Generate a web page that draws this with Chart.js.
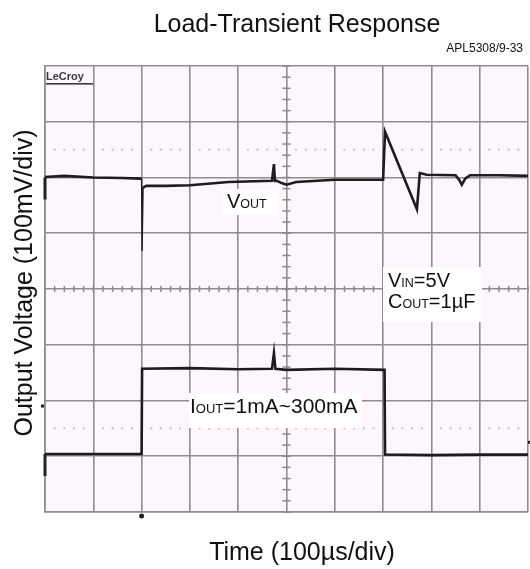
<!DOCTYPE html>
<html lang="en">
<head>
<meta charset="UTF-8" />
<title>Load-Transient Response</title>
<script src="https://cdn.jsdelivr.net/npm/chart.js"></script>
<style>
  body { margin: 0; background: #fff; }
  canvas { display: block; }
</style>
</head>
<body>
<canvas id="scope" width="530" height="569"></canvas>
<script>
  // time in µs (100 µs/div), trace levels in screen divisions (0 = centre line)
  const voutTime = [0, 40, 100, 160, 200, 201, 203, 210, 250, 300, 380, 470, 474, 476, 480, 490, 500, 520, 600, 700, 704, 770, 776, 790, 850, 858, 863, 870, 880, 940, 1000];
  const voutDiv  = [2.01, 2.03, 2.00, 1.99, 1.98, 0.68, 1.82, 1.85, 1.85, 1.86, 1.92, 1.94, 2.24, 1.94, 1.94, 1.90, 1.87, 1.92, 1.96, 1.96, 2.82, 1.43, 2.08, 2.05, 2.04, 1.95, 1.87, 1.98, 2.04, 2.04, 2.03];
  const ioutTime = [0, 100, 200, 201, 300, 400, 470, 474, 477, 500, 600, 703, 704, 800, 900, 1000];
  const ioutDiv  = [-2.96, -2.96, -2.96, -1.43, -1.42, -1.44, -1.43, -1.15, -1.43, -1.45, -1.43, -1.45, -2.97, -2.98, -2.97, -2.97];
  const dottedLevels = [2.5, -2.5];

  const FONT = "'Liberation Sans', Arial, sans-serif";

  function pairs(xs, ys) {
    return xs.map((x, i) => ({ x: x, y: ys[i] }));
  }

  // text with smaller "subscript" parts, e.g. V + OUT
  function mixed(ctx, parts, x, y) {
    parts.forEach(([txt, size]) => {
      ctx.font = size + 'px ' + FONT;
      ctx.fillText(txt, x, y);
      x += ctx.measureText(txt).width;
    });
  }

  const scopeDeco = {
    id: 'scopeDeco',
    beforeDraw(chart) {
      const { ctx, chartArea: a } = chart;
      ctx.save();
      ctx.fillStyle = '#ffffff';
      ctx.fillRect(0, 0, chart.width, chart.height);
      ctx.fillStyle = '#fdf6fd';
      ctx.fillRect(a.left, a.top, a.right - a.left, a.bottom - a.top);
      ctx.restore();
    },
    beforeDatasetsDraw(chart) {
      const { ctx, scales: { x, y } } = chart;
      const cx = x.getPixelForValue(500), cy = y.getPixelForValue(0);
      ctx.save();
      ctx.strokeStyle = '#8a8a8a';
      ctx.lineWidth = 1.5;
      // minor ticks on the centre axes
      for (let v = -4; v <= 4.001; v += 0.2) {
        const py = y.getPixelForValue(v);
        ctx.beginPath(); ctx.moveTo(cx - 4, py); ctx.lineTo(cx + 4, py); ctx.stroke();
      }
      for (let t = 0; t <= 1000.1; t += 20) {
        const px = x.getPixelForValue(t);
        ctx.beginPath(); ctx.moveTo(px, cy - 3); ctx.lineTo(px, cy + 3); ctx.stroke();
      }
      // dotted marker lines
      ctx.fillStyle = '#c4c4c4';
      dottedLevels.forEach(lv => {
        const py = y.getPixelForValue(lv);
        for (let t = 20; t < 1000; t += 20) {
          if (t % 100 === 0) continue;
          const px = x.getPixelForValue(t);
          ctx.fillRect(px - 1, py - 1, 2, 2);
        }
      });
      // channel / trigger markers
      ctx.fillStyle = '#222';
      const lx = x.getPixelForValue(0);
      ctx.fillRect(lx - 1.5, y.getPixelForValue(2.0), 3, 22);
      ctx.fillRect(lx - 1.5, y.getPixelForValue(-2.96), 3, 22);
      ctx.fillRect(lx - 4, y.getPixelForValue(-2.1) - 1.5, 3, 3);
      ctx.fillRect(x.getPixelForValue(1000), y.getPixelForValue(-2.75) - 1.5, 3, 3);
      ctx.beginPath();
      ctx.arc(x.getPixelForValue(200), y.getPixelForValue(-4) + 4, 2.5, 0, Math.PI * 2);
      ctx.fill();
      ctx.restore();
    },
    afterDraw(chart) {
      const ctx = chart.ctx;
      ctx.save();
      // logo
      ctx.fillStyle = '#3a3a3a';
      ctx.font = 'bold 11px ' + FONT;
      ctx.fillText('LeCroy', 46, 80);
      ctx.fillRect(46, 83, 47, 1.6);

      // white label boxes
      ctx.fillStyle = '#ffffff';
      ctx.fillRect(222, 189, 56, 26);
      ctx.fillRect(383, 267, 99, 55);
      ctx.fillRect(189, 393, 173, 35);

      ctx.fillStyle = '#111';
      ctx.textBaseline = 'alphabetic';
      mixed(ctx, [['V', 20], ['OUT', 12.5]], 227, 208);
      mixed(ctx, [['V', 20], ['IN', 12.5], ['=5V', 20]], 388, 287);
      mixed(ctx, [['C', 20], ['OUT', 12.5], ['=1\u00b5F', 20]], 388, 308);
      mixed(ctx, [['I', 21], ['OUT', 13], ['=1mA~300mA', 21]], 190, 413);

      // titles
      ctx.font = '25px ' + FONT;
      ctx.textAlign = 'center';
      ctx.fillText('Load-Transient Response', 297, 32);
      ctx.fillText('Time (100\u00b5s/div)', 302, 560);
      ctx.font = '12px ' + FONT;
      ctx.textAlign = 'right';
      ctx.fillText('APL5308/9-33', 523, 52);

      ctx.translate(32, 283);
      ctx.rotate(-Math.PI / 2);
      ctx.textAlign = 'center';
      ctx.font = '25px ' + FONT;
      ctx.fillText('Output Voltage (100mV/div)', 0, 0);
      ctx.restore();
    }
  };

  // the fast load-step dip is drawn thinner, as on the scope
  const thinDip = c => (c.datasetIndex === 0 && (c.p0DataIndex === 4 || c.p0DataIndex === 5)) ? 1.4 : undefined;

  new Chart(document.getElementById('scope'), {
    type: 'line',
    data: {
      datasets: [
        { label: 'VOUT', data: pairs(voutTime, voutDiv), segment: { borderWidth: thinDip } },
        { label: 'IOUT', data: pairs(ioutTime, ioutDiv) }
      ]
    },
    options: {
      responsive: false,
      animation: false,
      layout: { padding: { left: 45, right: 2, top: 66, bottom: 57 } },
      elements: {
        line: { borderColor: '#1c1c1c', borderWidth: 2.6, tension: 0 },
        point: { radius: 0 }
      },
      plugins: { legend: { display: false }, tooltip: { enabled: false } },
      scales: {
        x: {
          type: 'linear', min: 0, max: 1000,
          ticks: { display: false, stepSize: 100 },
          grid: { color: '#8e8e8e', lineWidth: 1.6, drawTicks: false },
          border: { color: '#8e8e8e', width: 1.6 }
        },
        y: {
          type: 'linear', min: -4, max: 4,
          ticks: { display: false, stepSize: 1 },
          grid: { color: '#8e8e8e', lineWidth: 1.6, drawTicks: false },
          border: { color: '#8e8e8e', width: 1.6 }
        }
      }
    },
    plugins: [scopeDeco]
  });
</script>
</body>
</html>
